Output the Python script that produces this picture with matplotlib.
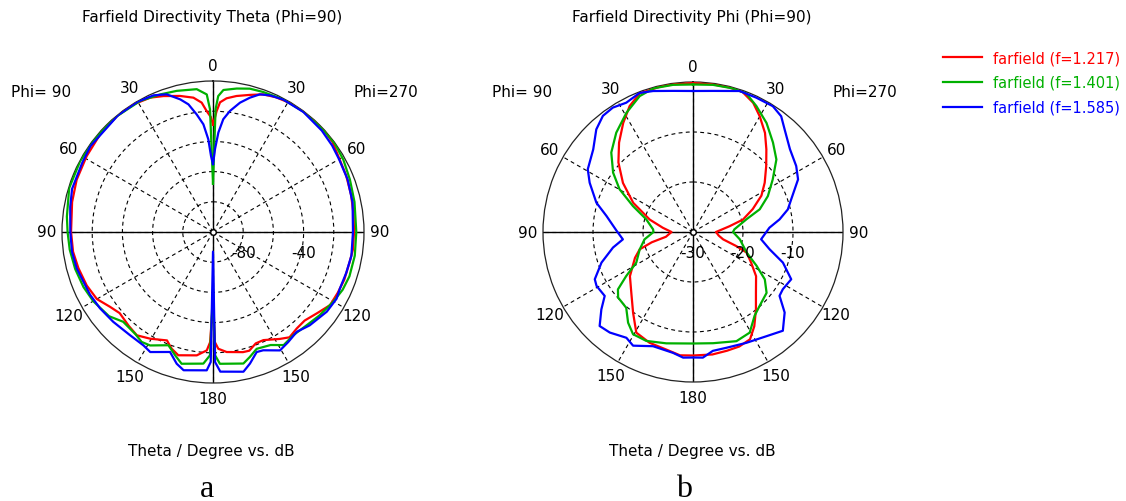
import numpy as np
import matplotlib
matplotlib.use('Agg')
import matplotlib.pyplot as plt
import matplotlib.transforms as mtransforms
from matplotlib.lines import Line2D

# ---------------- data ----------------
freq_labels = ['farfield (f=1.217)', 'farfield (f=1.401)', 'farfield (f=1.585)']
colors = ['#ff0000', '#00b000', '#0000ff']
angle_ticks = [0, 30, 60, 90, 120, 150, 180, 210, 240, 270, 300, 330]
angle_labels = ['0', '30', '60', '90', '120', '150', '180', '150', '120', '90', '60', '30']

# (a) Farfield Directivity Theta (Phi=90) -- range -100..0 dB
# "R" = Phi=270 side (drawn right), "L" = Phi=90 side (drawn left); angle = theta in degrees
a_red_R = [0, 1.7, 3.1, 5.8, 9.8, 15, 20, 25, 31, 37, 47, 53, 60, 67, 75, 83, 90, 97, 102, 110, 116, 122, 128, 134, 139, 144, 148, 155, 159, 163, 166, 173.5, 177.4, 179, 180]
d_red_R = [-29, -20, -14, -11, -8.6, -6, -3, -1.5, -0.5, -0.2, -0.3, -0.9, -3.3, -4.2, -5.3, -6.2, -6.6, -6.6, -7.3, -7.5, -8.1, -8.6, -12.6, -15.6, -15.4, -13.8, -16.5, -21, -21, -17.8, -18, -20, -22.6, -27, -54]
a_red_L = [0, 1, 3, 5, 8.3, 13.6, 20, 25, 32, 39.6, 49, 59, 69, 78, 90, 98, 105, 113, 120, 126, 131, 138, 143.6, 149.5, 157, 160.5, 164.3, 172.5, 177, 178.5, 180]
d_red_L = [-29, -24, -19.8, -14, -10.1, -7.3, -4.2, -1.8, -0.4, -0.3, -1.1, -2.4, -3.3, -4.6, -6, -6.4, -7.7, -9.2, -11.2, -15.7, -18.1, -16.5, -15, -18, -22, -18, -15.2, -17.6, -21.5, -27, -54]

a_grn_R = [0, 1.2, 2.2, 4.2, 9.4, 14.4, 19.7, 28, 37, 47, 54, 61, 69, 78, 90, 99.5, 108, 114, 120, 128, 135, 142, 148, 153, 159.5, 163.6, 167, 177, 179, 180]
d_grn_R = [-68, -18.7, -9.9, -5.7, -3.7, -2, -1.5, -0.6, -0.3, -0.3, -0.3, -1.3, -2.9, -4.2, -5.1, -4.8, -5, -6, -7.9, -10.4, -12.5, -13.4, -11.7, -16, -17.4, -13.7, -10.6, -12.6, -18.3, -62]
a_grn_L = [0, 1.4, 2.6, 6.5, 14.4, 21, 29, 40, 52, 62, 73, 84, 90, 97, 105, 113, 120, 129, 135, 143, 147, 151, 158.5, 163, 166.6, 175.8, 178.6, 180]
d_grn_L = [-68, -18.7, -8.8, -4.8, -3.5, -2.4, -0.7, -0.3, -0.2, -0.3, -0.4, -2.7, -3.7, -4.4, -5.5, -6.8, -8.4, -11.4, -15.9, -15, -13.2, -14.1, -19.4, -14.5, -10.3, -12.6, -18.3, -62]

a_blu_R = [0, 1.4, 3.1, 5.2, 8, 11.8, 15.4, 18.8, 22.6, 28, 37, 47, 54, 60, 68.6, 78, 90, 99.7, 107, 114, 118.4, 125, 134, 140, 145.7, 150.5, 157, 160, 164.3, 167.7, 177, 179.1, 180]
d_blu_R = [-55, -45, -34, -25, -19, -12.5, -7.7, -3.7, -2, -0.7, -0.5, -1.5, -2.5, -3.6, -4.3, -5.5, -7.3, -7, -7.7, -8, -7, -8, -11, -13.7, -11.7, -9.9, -14.9, -15.4, -9.5, -5.3, -7.4, -13.9, -87]
a_blu_L = [0, 1.5, 2.9, 5.1, 7.9, 10.9, 13.9, 18.6, 23.5, 30, 39, 55, 62, 73, 80, 90, 98, 105, 111, 117, 124, 132, 141, 148.5, 152.4, 160.3, 164.6, 168, 177.4, 179, 180]
d_blu_L = [-55, -49.6, -38.5, -28.4, -21.4, -13.9, -9.5, -3.8, -1.3, -0.3, -0.3, -0.9, -2, -2.4, -4, -5.5, -5.7, -6.6, -8.1, -8.6, -9.7, -11.1, -12.3, -11.9, -10.3, -15.6, -9.5, -6.4, -8.3, -13.9, -87]

# (b) Farfield Directivity Phi (Phi=90) -- range -30..0 dB
b_red_R = [0, 7.6, 14, 19.5, 25, 30, 36, 41.6, 48, 55.5, 62, 69, 76, 81, 90, 98, 103.7, 108, 111, 118, 125, 134, 141, 147, 152, 158, 164, 171, 180]
e_red_R = [-0.2, -0.2, -0.2, -0.3, -1.5, -3.3, -5.5, -7.9, -10.3, -12.6, -14.5, -17.2, -19.7, -22.6, -25.4, -24.8, -23.8, -20.9, -18.5, -16.8, -14.6, -12.5, -10, -7.5, -5.7, -5.3, -5.3, -5.2, -5.3]
b_red_L = [7.5, 12.7, 21, 26.7, 32.6, 39.6, 47, 55, 64, 74, 82, 90, 100, 104, 108, 114, 125, 134.5, 143.4, 150.6, 158.6, 167, 174, 180]
e_red_L = [-0.2, -0.2, -0.3, -1.8, -4.1, -6.8, -9.6, -12.9, -16.7, -21, -23.9, -25.7, -24.5, -21.5, -18.8, -17.3, -14.6, -12.7, -9.9, -6.9, -6.2, -5.9, -5.2, -5.3]

b_grn_R = [0, 7.7, 15.3, 21, 26.7, 34, 41.8, 49, 56.6, 64.4, 71.2, 76.6, 86.3, 90, 99, 111, 118, 123.4, 129.6, 138, 143.7, 150.6, 158.3, 169.8, 180]
e_grn_R = [-0.5, -0.3, -0.2, -0.3, -1.8, -3.7, -6, -7.9, -10.9, -13.4, -15.9, -19, -21.7, -22, -20.5, -18.5, -15.6, -12.8, -10.9, -10.1, -9.2, -6.9, -6.5, -7.4, -7.7]
b_grn_L = [7.7, 15.3, 21.4, 29.2, 37.7, 45.8, 53.4, 59.8, 66.6, 74.8, 86.2, 90, 98.6, 108, 118.4, 123.4, 127.4, 131.2, 138.6, 144.4, 149.6, 156.8, 166.5, 180]
e_grn_L = [-0.3, -0.2, -0.8, -2.7, -4.9, -7.2, -10.1, -13, -16.9, -20.3, -22, -22.1, -20.2, -18.8, -17.1, -14, -11.1, -10.1, -9.8, -7.7, -6.3, -6.3, -7.1, -7.7]

b_blu_R = [0, 8.1, 18.3, 25.2, 32.4, 37.3, 41.8, 49.5, 57.4, 63.4, 71.6, 76.6, 81.7, 86.8, 96.1, 102.7, 108.8, 115.7, 122.5, 126.4, 131.3, 137.7, 144.8, 154.3, 163.9, 170.5, 175.5, 180]
e_blu_R = [-1.8, -1.5, -0.3, -0.3, -0.2, -0.9, -2.5, -4.5, -5.5, -6.5, -9.3, -10.5, -12.5, -14.7, -16.3, -14.3, -11, -8.2, -8.7, -8.5, -5.6, -3.3, -4.5, -5.4, -5.9, -5.9, -4.8, -4.9]
b_blu_L = [8, 15.8, 21, 27.3, 32.8, 37.8, 43.3, 50.4, 59.2, 64.5, 73.1, 79.5, 89, 96, 101, 108.5, 115.7, 119.2, 125.9, 130.2, 135.2, 140.4, 147.8, 152.2, 160.7, 170.6, 175.5, 180]
e_blu_L = [-1.5, -0.7, -0.2, -0.9, -0.4, -0.6, -1.8, -4.1, -5.5, -7.1, -9.8, -12.4, -14.7, -15.9, -13.7, -10.7, -8.2, -7.9, -8.2, -6, -3.5, -3.9, -5, -4.3, -5.8, -5.5, -4.8, -4.9]

# ---------------- helpers ----------------
def full_curve(aR, dR, aL, dL):
    aR = np.asarray(aR, float); dR = np.asarray(dR, float)
    aL = np.asarray(aL, float); dL = np.asarray(dL, float)
    ang = np.concatenate([aR, 360.0 - aL[::-1], [360.0]])
    val = np.concatenate([dR, dL[::-1], [dR[0]]])
    return np.deg2rad(ang), val


plt.rcParams['font.family'] = ['DejaVu Sans']
plt.rcParams['font.size'] = 11

W, H = 1126, 502
fig = plt.figure(figsize=(W / 100, H / 100), dpi=100)


def make_polar(cx, cy, R, rmin, rmax, rings, rlabels, curves):
    ax = fig.add_axes([(cx - R) / W, (H - cy - R) / H, 2 * R / W, 2 * R / H], projection='polar')
    ax.set_theta_zero_location('N')
    ax.set_theta_direction(-1)
    ax.set_ylim(rmin, rmax)
    ax.set_yticks(rings)
    ax.set_yticklabels([])
    ax.set_xticks(np.deg2rad(angle_ticks))
    ax.set_xticklabels(angle_labels)
    ax.tick_params(axis='x', pad=4, labelsize=11, length=3, width=1, direction='in')
    ax.tick_params(axis='y', length=0)
    ax.grid(True, color='black', linestyle=(0, (3.5, 3)), linewidth=0.8)
    ax.spines['polar'].set_color('#222222')
    ax.spines['polar'].set_linewidth(0.9)
    # solid axis cross
    for t in (0, 90, 180, 270):
        ax.plot([np.deg2rad(t)] * 2, [rmin, rmax], color='black', lw=1.0, zorder=2)
    for (aR, dR, aL, dL), c in zip(curves, colors):
        th, r = full_curve(aR, dR, aL, dL)
        ax.plot(th, r, color=c, lw=1.6, zorder=3)
    ax.plot([0], [rmin], marker='o', ms=4, mfc='white', mec='black', mew=1, zorder=4)
    off = mtransforms.offset_copy(ax.transData, fig=fig, x=0, y=-21, units='dots')
    for v in rlabels:
        ax.text(np.deg2rad(90), v, str(v), transform=off, ha='center', va='center',
                fontsize=11, zorder=5)
    return ax


ax1 = make_polar(213, 233, 151, -100, 0, [-80, -60, -40, -20], [-80, -40],
                 [(a_red_R, d_red_R, a_red_L, d_red_L),
                  (a_grn_R, d_grn_R, a_grn_L, d_grn_L),
                  (a_blu_R, d_blu_R, a_blu_L, d_blu_L)])
ax2 = make_polar(693, 233, 150, -30, 0, [-20, -10], [-30, -20, -10],
                 [(b_red_R, e_red_R, b_red_L, e_red_L),
                  (b_grn_R, e_grn_R, b_grn_L, e_grn_L),
                  (b_blu_R, e_blu_R, b_blu_L, e_blu_L)])

def ftext(x, y, s, **kw):
    fig.text(x / W, 1 - y / H, s, **kw)

ftext(212, 22, 'Farfield Directivity Theta (Phi=90)', ha='center', va='baseline')
ftext(692, 22, 'Farfield Directivity Phi (Phi=90)', ha='center', va='baseline')
ftext(41, 97, 'Phi= 90', ha='center', va='baseline')
ftext(386, 97, 'Phi=270', ha='center', va='baseline')
ftext(522, 97, 'Phi= 90', ha='center', va='baseline')
ftext(865, 97, 'Phi=270', ha='center', va='baseline')
ftext(211, 456, 'Theta / Degree vs. dB', ha='center', va='baseline')
ftext(692, 456, 'Theta / Degree vs. dB', ha='center', va='baseline')
ftext(207, 497, 'a', ha='center', va='baseline', family='Liberation Serif', fontsize=23)
ftext(684, 497, 'b', ha='center', va='baseline', family='Liberation Serif', fontsize=23)

handles = [Line2D([], [], color=c, lw=1.6) for c in colors]
fig.legend(handles, freq_labels, loc='upper left', bbox_to_anchor=(943 / W, 1 - 51 / H),
           frameon=False, fontsize=10.5, labelcolor='linecolor', handlelength=2.7,
           handletextpad=0.7, labelspacing=0.68, borderpad=0, borderaxespad=0)

fig.savefig('out.png', dpi=100)
